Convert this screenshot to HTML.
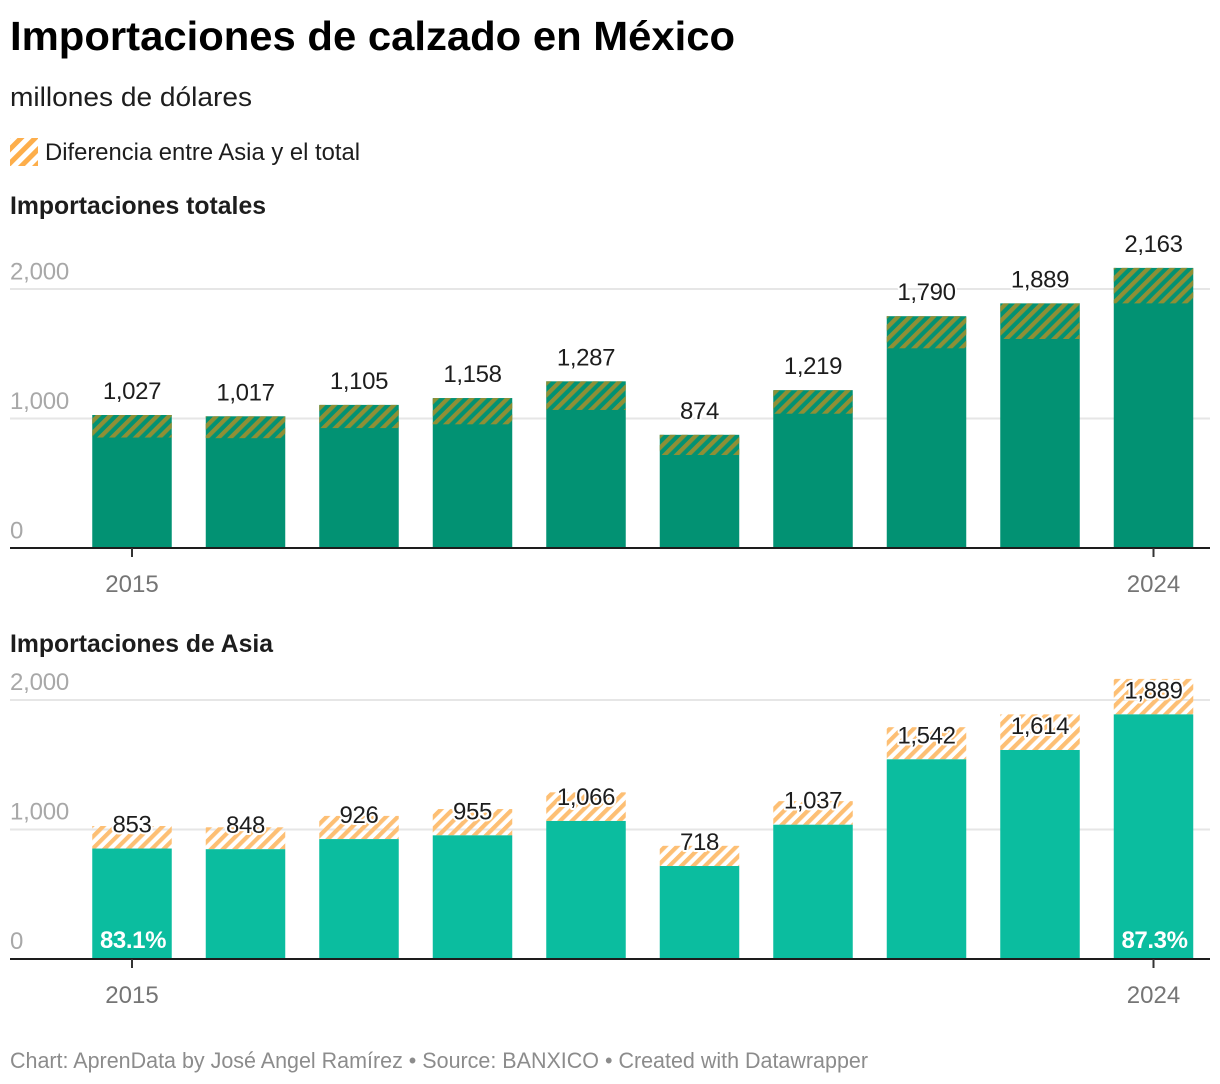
<!DOCTYPE html>
<html lang="es">
<head>
<meta charset="utf-8">
<title>Importaciones de calzado en México</title>
<style>
html,body{margin:0;padding:0;background:#fff;width:1220px;height:1084px;overflow:hidden}
svg{display:block}
text{font-family:"Liberation Sans",Arial,sans-serif}
</style>
</head>
<body>
<svg id="chart" xmlns="http://www.w3.org/2000/svg" width="1220" height="1084" viewBox="0 0 1220 1084">
  <defs>
    <pattern id="hatch-dark" patternUnits="userSpaceOnUse" width="8.4" height="8.4" patternTransform="rotate(45 0 0)">
      <rect width="4.2" height="8.4" fill="#8f8f35"></rect>
    </pattern>
    <pattern id="hatch-light" patternUnits="userSpaceOnUse" width="8.4" height="8.4" patternTransform="rotate(45 0 0)">
      <rect width="4.2" height="8.4" fill="#fdbf74"></rect>
    </pattern>
    <pattern id="hatch-legend" patternUnits="userSpaceOnUse" width="10" height="10" patternTransform="rotate(45 0 0)">
      <rect width="5" height="10" fill="#fdae4b"></rect>
    </pattern>
  </defs>
  <text x="10" y="50" font-size="41" font-weight="700" fill="#000" textLength="725" lengthAdjust="spacingAndGlyphs">Importaciones de calzado en México</text>
  <text x="10" y="106" font-size="27" fill="#1d1d1d" textLength="242" lengthAdjust="spacingAndGlyphs">millones de dólares</text>
  <rect x="10" y="138" width="28" height="28" fill="url(#hatch-legend)"></rect>
  <text x="45" y="160" font-size="24" fill="#1d1d1d" textLength="315" lengthAdjust="spacingAndGlyphs">Diferencia entre Asia y el total</text>
  <text x="10" y="214" font-size="25" font-weight="700" fill="#1d1d1d" textLength="256" lengthAdjust="spacingAndGlyphs">Importaciones totales</text>
  <text x="10" y="652" font-size="25" font-weight="700" fill="#1d1d1d" textLength="263" lengthAdjust="spacingAndGlyphs">Importaciones de Asia</text>
  <g id="panel-top"></g>
  <g id="panel-bottom"></g>
  <text x="10" y="1068" font-size="22" fill="#8c8c8c" textLength="858" lengthAdjust="spacingAndGlyphs">Chart: AprenData by José Angel Ramírez • Source: BANXICO • Created with Datawrapper</text>
</svg>
<script>
const years = [2015, 2016, 2017, 2018, 2019, 2020, 2021, 2022, 2023, 2024];
const totalValues = [1027, 1017, 1105, 1158, 1287, 874, 1219, 1790, 1889, 2163];
const asiaValues = [853, 848, 926, 955, 1066, 718, 1037, 1542, 1614, 1889];
const yTicks = [0, 1000, 2000];

const NS = 'http://www.w3.org/2000/svg';
const PLOT_LEFT = 10;
const PLOT_RIGHT = 1210;
const FIRST_CENTER = 132;
const LAST_CENTER = 1153.5;
const BAR_WIDTH = 79.5;
const UNIT_PX = 0.1295;

function xCenter(i) {
  return FIRST_CENTER + i * (LAST_CENTER - FIRST_CENTER) / (years.length - 1);
}
function yScale(value, baseline) {
  return baseline - value * UNIT_PX;
}
function fmt(v) {
  return v.toLocaleString('en-US');
}
function make(parent, tag, attrs, content) {
  const el = document.createElementNS(NS, tag);
  for (const k in attrs) el.setAttribute(k, attrs[k]);
  if (content !== undefined) el.textContent = content;
  parent.appendChild(el);
  return el;
}

function drawPanel(parent, baseline, opts) {
  // gridlines + y tick labels
  yTicks.forEach(function (t) {
    const y = yScale(t, baseline);
    if (t !== 0) {
      const grid = make(parent, 'line', { x1: PLOT_LEFT, x2: PLOT_RIGHT, y1: y, y2: y, stroke: '#e6e6e6', 'stroke-width': 2 });
      
      
    }
    const lab = make(parent, 'text', { x: PLOT_LEFT, y: y - opts.tickOffset, 'font-size': 24, 'letter-spacing': '-0.2', fill: '#a8a8a8' }, fmt(t));
    
    
  });

  // bars
  years.forEach(function (year, i) {
    const left = xCenter(i) - BAR_WIDTH / 2;
    const yTotal = yScale(totalValues[i], baseline);
    const yAsia = yScale(asiaValues[i], baseline);
    if (opts.dark) {
      const bg = make(parent, 'rect', { x: left, y: yTotal, width: BAR_WIDTH, height: baseline - yTotal, fill: opts.color });
      
      
      const hatch = make(parent, 'rect', { x: left, y: yTotal, width: BAR_WIDTH, height: yAsia - yTotal, fill: 'url(#hatch-dark)' });
      
      
    } else {
      const hatch = make(parent, 'rect', { x: left, y: yTotal, width: BAR_WIDTH, height: yAsia - yTotal, fill: 'url(#hatch-light)' });
      
      
      const solid = make(parent, 'rect', { x: left, y: yAsia, width: BAR_WIDTH, height: baseline - yAsia, fill: opts.color });
      
      
    }
  });

  // baseline axis
  const axis = make(parent, 'line', { x1: PLOT_LEFT, x2: PLOT_RIGHT, y1: baseline, y2: baseline, stroke: '#1d1d1d', 'stroke-width': 2 });
  
  

  // first/last x ticks
  [0, years.length - 1].forEach(function (i) {
    const x = xCenter(i);
    const tick = make(parent, 'line', { x1: x, x2: x, y1: baseline, y2: baseline + 9, stroke: '#333', 'stroke-width': 2 });
    
    
    const lab = make(parent, 'text', { x: x, y: baseline + 44, 'font-size': 24, fill: '#757575', 'text-anchor': 'middle' }, String(years[i]));
    
    
  });

  // value labels
  opts.values.forEach(function (v, i) {
    const lab = make(parent, 'text', {
      x: xCenter(i), y: yScale(v, baseline) - 16, 'font-size': 24, 'letter-spacing': '-0.35', fill: '#1d1d1d', 'text-anchor': 'middle',
      stroke: '#fff', 'stroke-width': 4, 'stroke-linejoin': 'round', 'paint-order': 'stroke'
    }, fmt(v));
    
    
  });

  // share labels inside first and last bars
  if (opts.showShare) {
    [0, years.length - 1].forEach(function (i) {
      const share = (asiaValues[i] / totalValues[i] * 100).toFixed(1) + '%';
      const lab = make(parent, 'text', { x: xCenter(i) + 1, y: baseline - 11, 'font-size': 24, 'letter-spacing': '-0.4', 'font-weight': 700, fill: '#fff', 'text-anchor': 'middle' }, share);
      
      
    });
  }
}

drawPanel(document.getElementById('panel-top'), 548, { dark: true, color: '#029273', values: totalValues, showShare: false, tickOffset: 9.5 });
drawPanel(document.getElementById('panel-bottom'), 959, { dark: false, color: '#0bbd9f', values: asiaValues, showShare: true, tickOffset: 10 });
</script>
</body>
</html>
